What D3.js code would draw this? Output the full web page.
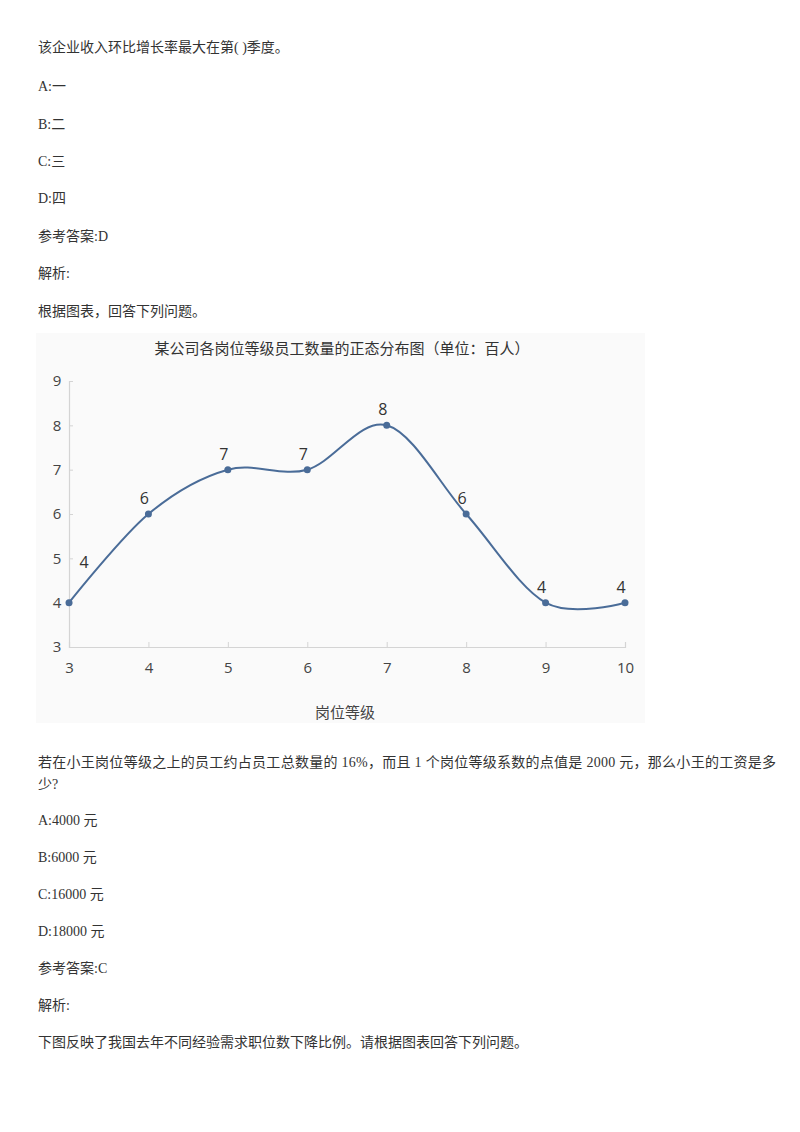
<!DOCTYPE html>
<html>
<head>
<meta charset="utf-8">
<script src="https://cdn.jsdelivr.net/npm/d3@7"></script>
<style>
  html, body { margin: 0; padding: 0; background: #fff; }
  svg { display: block; }
</style>
</head>
<body>
<svg id="page" width="800" height="1132"></svg>
<script>
// ---------- data ----------
const grades = [3, 4, 5, 6, 7, 8, 9, 10];
const counts = [4, 6, 7, 7, 8, 6, 4, 4];
const yTicks = [3, 4, 5, 6, 7, 8, 9];
const chartTitle = "某公司各岗位等级员工数量的正态分布图（单位：百人）";
const xAxisTitle = "岗位等级";

const textBefore = [
  "该企业收入环比增长率最大在第( )季度。",
  "A:一",
  "B:二",
  "C:三",
  "D:四",
  "参考答案:D",
  "解析:",
  "根据图表，回答下列问题。"
];
const textAfterLine1 = "若在小王岗位等级之上的员工约占员工总数量的 16%，而且 1 个岗位等级系数的点值是 2000 元，那么小王的工资是多";
const textAfterLine2 = "少?";
const textAfter = [
  "A:4000 元",
  "B:6000 元",
  "C:16000 元",
  "D:18000 元",
  "参考答案:C",
  "解析:",
  "下图反映了我国去年不同经验需求职位数下降比例。请根据图表回答下列问题。"
];

// ---------- page ----------
const svg = d3.select("#page");
svg.append("rect").attr("width", 800).attr("height", 1132).attr("fill", "#fff");

const pageFont = "'Liberation Serif', 'Noto Sans CJK SC', serif";
const pageText = svg.append("g")
  .attr("font-family", pageFont)
  .attr("font-size", 14)
  .attr("fill", "#333");

const beforeY = [52, 91, 129, 166, 203, 241, 278, 316];
textBefore.forEach((t, i) => {
  pageText.append("text").attr("x", 38).attr("y", beforeY[i]).text(t);
});
pageText.append("text").attr("x", 38).attr("y", 767)
  .attr("textLength", 738).attr("lengthAdjust", "spacing")
  .text(textAfterLine1);
pageText.append("text").attr("x", 38).attr("y", 789).text(textAfterLine2);
const afterY = [825, 862, 899, 936, 973, 1010, 1047];
textAfter.forEach((t, i) => {
  pageText.append("text").attr("x", 38).attr("y", afterY[i]).text(t);
});

// ---------- chart ----------
const chartFont = "'Noto Sans CJK SC', 'Open Sans', sans-serif";
svg.append("rect")
  .attr("x", 36).attr("y", 333).attr("width", 609).attr("height", 390)
  .attr("fill", "#fafafa");

const chart = svg.append("g").attr("font-family", chartFont);

chart.append("text")
  .attr("x", 342).attr("y", 354)
  .attr("text-anchor", "middle")
  .attr("font-size", 15)
  .attr("font-weight", 400)
  .attr("fill", "#333")
  .text(chartTitle);

const x = d3.scaleLinear().domain([3, 10]).range([69, 625]);
const y = d3.scaleLinear().domain([3, 9]).range([647, 381]);

// y axis
const yAxis = chart.append("g")
  .attr("transform", `translate(${x(3)},0)`)
  .call(d3.axisLeft(y).tickValues(yTicks).tickSize(-4).tickPadding(20).tickFormat(d3.format("d")));
yAxis.select(".domain").attr("stroke", "#d4d4d4").attr("stroke-width", 1.2);
yAxis.selectAll(".tick line").attr("stroke", "#d4d4d4");
yAxis.selectAll(".tick text")
  .attr("font-family", "'Open Sans', sans-serif")
  .attr("font-size", 15)
  .attr("fill", "#444")
  .attr("text-anchor", "middle")
  .attr("dx", 8);

// x axis
const xAxis = chart.append("g")
  .attr("transform", `translate(0,${y(3)})`)
  .call(d3.axisBottom(x).tickValues(grades).tickSize(-5).tickPadding(15).tickFormat(d3.format("d")));
xAxis.select(".domain").attr("stroke", "#d4d4d4").attr("stroke-width", 1.2);
xAxis.selectAll(".tick line").attr("stroke", "#d4d4d4");
xAxis.selectAll(".tick text")
  .attr("font-family", "'Open Sans', sans-serif")
  .attr("font-size", 15)
  .attr("fill", "#444");

chart.append("text")
  .attr("x", 345).attr("y", 718)
  .attr("text-anchor", "middle")
  .attr("font-size", 15)
  .attr("font-weight", 400)
  .attr("fill", "#444")
  .text(xAxisTitle);

// line
const pts = grades.map((g, i) => [g, counts[i]]);
const line = d3.line()
  .x(d => x(d[0]))
  .y(d => y(d[1]))
  .curve(d3.curveCardinal.tension(0));

const lineColor = "#4a6c98";
chart.append("path")
  .datum(pts)
  .attr("d", line)
  .attr("fill", "none")
  .attr("stroke", lineColor)
  .attr("stroke-width", 2);

chart.selectAll("circle.pt")
  .data(pts)
  .join("circle")
  .attr("class", "pt")
  .attr("cx", d => x(d[0]))
  .attr("cy", d => y(d[1]))
  .attr("r", 3.5)
  .attr("fill", lineColor);

chart.selectAll("text.lbl")
  .data(pts)
  .join("text")
  .attr("class", "lbl")
  .attr("x", (d, i) => x(d[0]) + (i === 0 ? 15 : -4))
  .attr("y", (d, i) => y(d[1]) + (i === 0 ? -35 : -10))
  .attr("text-anchor", "middle")
  .attr("font-family", "'Open Sans', sans-serif")
  .attr("font-size", 16)
  .attr("fill", "#333")
  .text(d => d[1]);
</script>
</body>
</html>
